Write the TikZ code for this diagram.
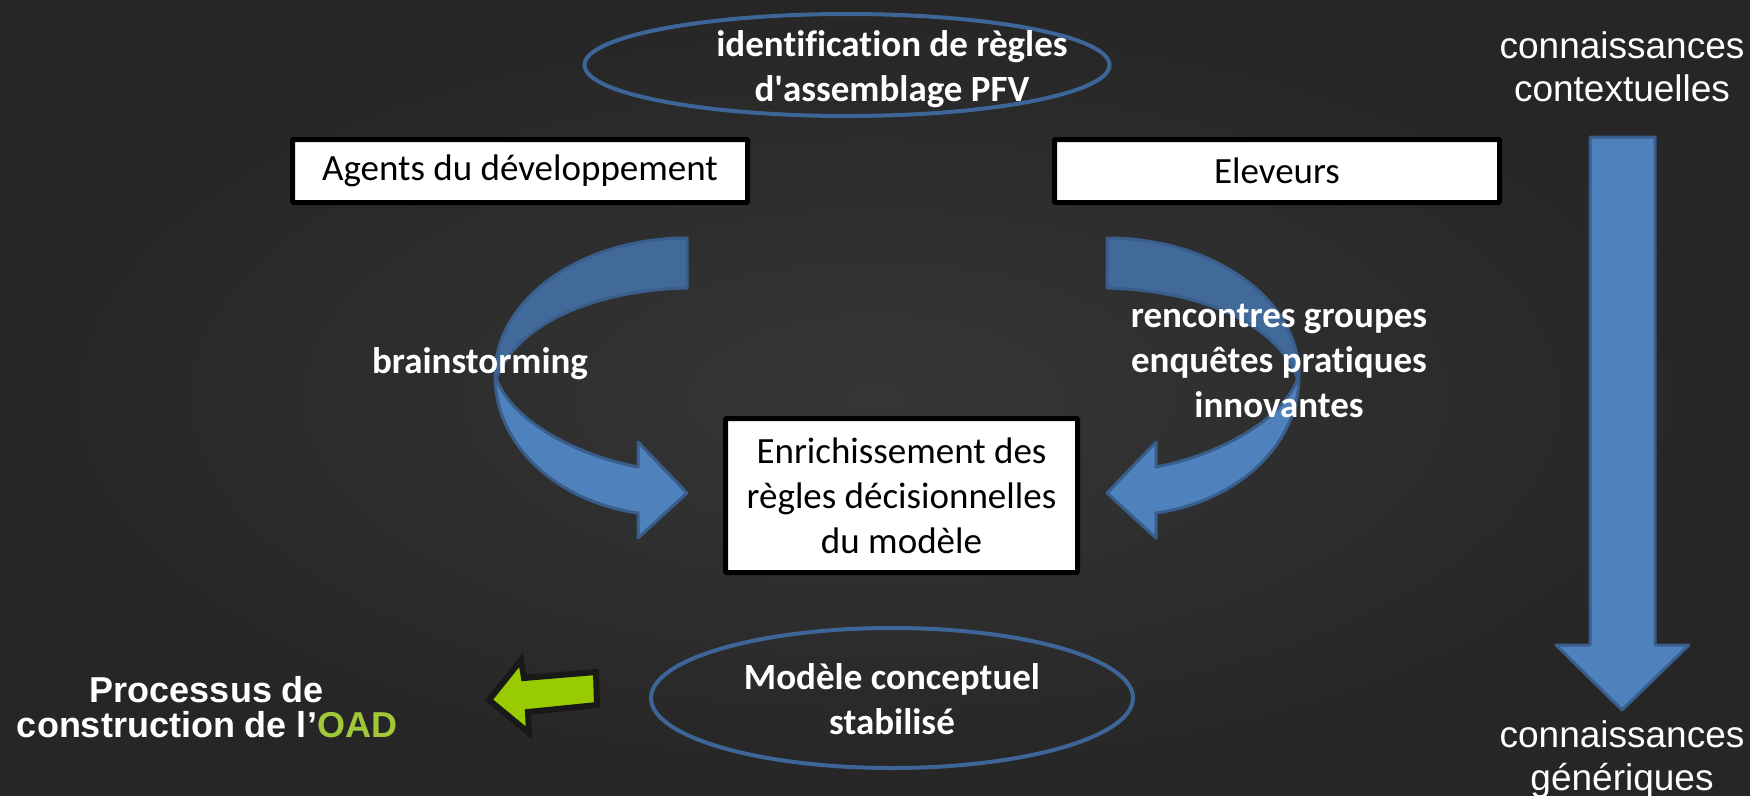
\documentclass[tikz,border=0pt]{standalone}
\usepackage{fontspec}
\setmainfont{Carlito}[Ligatures=NoCommon]
\newfontfamily\arialf{Liberation Sans}
\usetikzlibrary{shapes.geometric}
\definecolor{bgin}{HTML}{363636}
\definecolor{bgout}{HTML}{262626}
\definecolor{ovalblue}{HTML}{3D6597}
\definecolor{arrowblue}{HTML}{4F81BD}
\definecolor{arrowdark}{HTML}{41699A}
\definecolor{arrowedge}{HTML}{395E8C}
\definecolor{oadgreen}{HTML}{99CC00}
\definecolor{oadtext}{HTML}{A2C83A}
\tikzset{
  boxnode/.style={draw=black, line width=5pt, fill=white, rounded corners=1pt, inner sep=0pt,
    text=black, font=\fontsize{37}{45}\selectfont, align=center},
  oval/.style={ellipse, draw=ovalblue, line width=4pt, inner sep=0pt},
  lbl/.style={text=white, font=\bfseries\fontsize{37}{45}\selectfont, align=center},
  arl/.style={text=white, font=\arialf\fontsize{37}{43}\selectfont, align=center},
  bluearrow/.style={fill=arrowblue, draw=arrowedge, line width=3pt, line join=round},
  backband/.style={fill=arrowdark, draw=arrowedge, line width=3pt, line join=round},
  greenarrow/.style={fill=oadgreen, draw=black!90, line width=6pt, line join=miter}
}
\begin{document}
\begin{tikzpicture}[x=1pt,y=-1pt]
\useasboundingbox (0,0) rectangle (1750,795);
\shade[inner color=bgin, outer color=bgout] (0,0) rectangle (1750,795);

% ellipses
\node[oval, minimum width=525pt, minimum height=102pt] (topoval) at (847,65) {};
\node[lbl] (ident) at (892,69) {identification de règles\\d\textquotesingle assemblage PFV};
\node[oval, minimum width=482pt, minimum height=140pt] (botoval) at (892,698) {};
\node[lbl] (modele) at (892,699) {Modèle conceptuel\\stabilisé};

% boxes
\node[boxnode, minimum width=455pt, minimum height=63pt] (agents) at (520,171) {Agents du développement};
\node[boxnode, minimum width=445pt, minimum height=63pt] (eleveurs) at (1277,171) {Eleveurs};
\node[boxnode, minimum width=352pt, minimum height=154pt] (enrich) at (901.5,495.5) {Enrichissement des\\règles décisionnelles\\du modèle};

% left curved arrow
\path[backband] (687,238) .. controls (581,238) and (495,299) .. (495,375)
  -- (497,377) .. controls (520,320) and (600,290) .. (687,288) -- cycle;
\path[bluearrow] (495,375) .. controls (495,448) and (560,502) .. (638,513)
  -- (638,538) -- (687,493) -- (638,442) -- (638,467)
  .. controls (575,455) and (512,420) .. (497,380) -- cycle;

% right curved arrow
\path[backband] (1107,238) .. controls (1213,238) and (1299,299) .. (1299,375)
  -- (1297,377) .. controls (1274,320) and (1194,290) .. (1107,288) -- cycle;
\path[bluearrow] (1299,375) .. controls (1299,448) and (1234,502) .. (1156,513)
  -- (1156,538) -- (1107,493) -- (1156,442) -- (1156,467)
  .. controls (1219,455) and (1282,420) .. (1297,380) -- cycle;

% labels of curved arrows
\node[lbl, anchor=base] (brain) at (480,373) {brainstorming};
\node[lbl] (renc) at (1279,361) {rencontres groupes\\enquêtes pratiques\\innovantes};

% vertical arrow
\node[arl] (ctx) at (1622,67) {connaissances\\contextuelles};
\node[arl] (gen) at (1622,759) {connaissances\\génériques};
\path[bluearrow] (1590,137) -- (1655,137) -- (1655,645) -- (1689,645) -- (1622,710)
  -- (1556,645) -- (1590,645) -- cycle;

% green arrow and OAD text
\path[greenarrow] (489,700) -- (521,660) -- (524,678) -- (596,672) -- (597,705)
  -- (528,712) -- (529,733) -- cycle;
\node[text=white, font=\arialf\bfseries\fontsize{36}{35}\selectfont, align=center] (oad) at (207,707)
  {Processus de\\construction de l’\textcolor{oadtext}{OAD}};
\end{tikzpicture}
\end{document}
